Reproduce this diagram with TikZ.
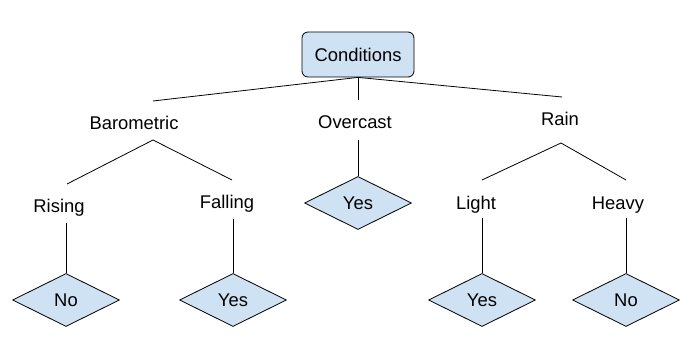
\documentclass[tikz,border=0pt]{standalone}
\usepackage{fontspec}
\setmainfont{Liberation Sans}
\usetikzlibrary{shapes.geometric}
\definecolor{leaf}{HTML}{CFE2F3}
\begin{document}
\begin{tikzpicture}[x=1pt,y=-1pt,
  txt/.style={font=\fontsize{18.4}{22}\selectfont, text height=13.2pt, text depth=0pt},
  lbl/.style={txt, inner sep=0pt},
  cond/.style={txt, draw, fill=leaf, rounded corners=6pt, minimum width=112pt, minimum height=45pt, inner sep=0pt, line width=0.8pt},
  leafd/.style={txt, diamond, draw, fill=leaf, aspect=2, minimum width=107pt, minimum height=53pt, inner sep=0pt, line width=0.8pt},
  conn/.style={line width=0.8pt}]
\useasboundingbox (0,0) rectangle (693,355);
% nodes
\node[cond] (cond) at (358,54.5) {Conditions};
\node[lbl] (baro) at (134,123) {Barometric};
\node[lbl] (over) at (355,122) {Overcast};
\node[lbl] (rain) at (560,119) {Rain};
\node[lbl] (rise) at (59,205.5) {Rising};
\node[lbl] (fall) at (227,201.5) {Falling};
\node[lbl] (light) at (476,203) {Light};
\node[lbl] (heavy) at (618,203) {Heavy};
\node[leafd] (d1) at (66,300) {No};
\node[leafd] (d2) at (233,300) {Yes};
\node[leafd] (d3) at (358,203) {Yes};
\node[leafd] (d4) at (482,300) {Yes};
\node[leafd] (d5) at (626,300) {No};
% connector end points
\coordinate (baroIn) at (153,101);
\coordinate (overIn) at (358,100);
\coordinate (rainIn) at (562,97);
\coordinate (baroOut) at (153,140);
\coordinate (overOut) at (358,140);
\coordinate (rainOut) at (561,143);
\coordinate (riseIn) at (67,184);
\coordinate (fallIn) at (232,180);
\coordinate (lightIn) at (482,180);
\coordinate (heavyIn) at (626,180);
\coordinate (riseOut) at (66,223);
\coordinate (fallOut) at (233,219);
\coordinate (lightOut) at (482,218);
\coordinate (heavyOut) at (626,218);
% connectors
\draw[conn] (cond.south) -- (baroIn);
\draw[conn] (cond.south) -- (overIn);
\draw[conn] (cond.south) -- (rainIn);
\draw[conn] (baroOut) -- (riseIn);
\draw[conn] (baroOut) -- (fallIn);
\draw[conn] (overOut) -- (d3.north);
\draw[conn] (rainOut) -- (lightIn);
\draw[conn] (rainOut) -- (heavyIn);
\draw[conn] (riseOut) -- (d1.north);
\draw[conn] (fallOut) -- (d2.north);
\draw[conn] (lightOut) -- (d4.north);
\draw[conn] (heavyOut) -- (d5.north);
\end{tikzpicture}
\end{document}
